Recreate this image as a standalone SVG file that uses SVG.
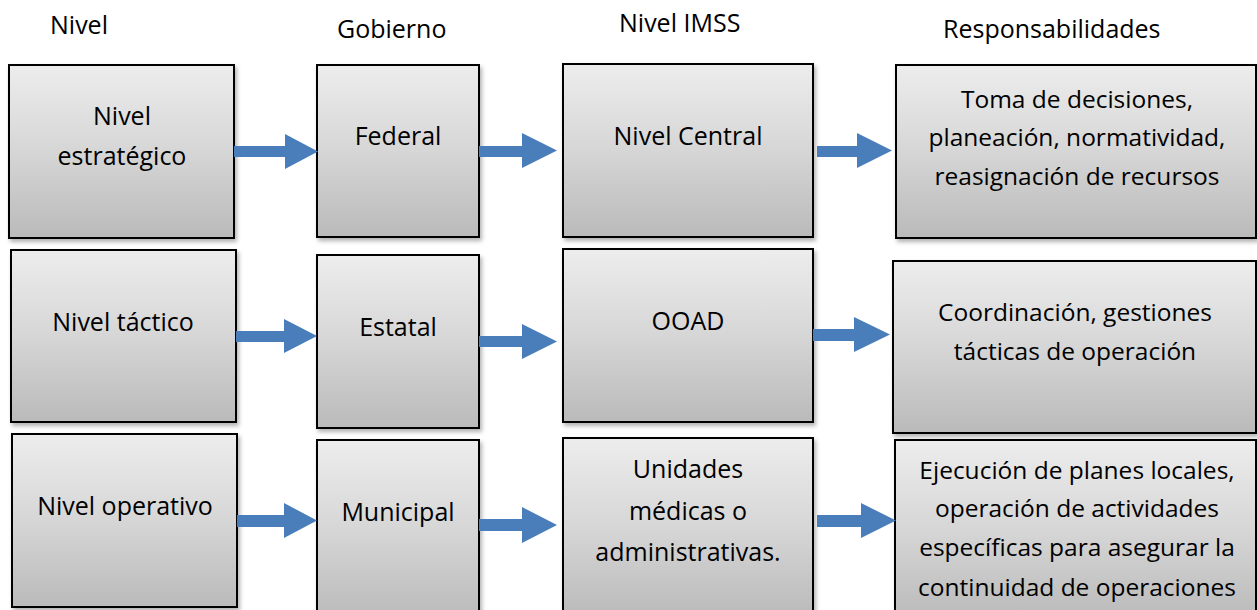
<svg xmlns="http://www.w3.org/2000/svg" width="1257" height="610" viewBox="0 0 1257 610">
<defs>
<linearGradient id="g" x1="0" y1="0" x2="0" y2="1">
<stop offset="0" stop-color="#ededed"/>
<stop offset="0.5" stop-color="#d6d6d6"/>
<stop offset="1" stop-color="#bababa"/>
</linearGradient>
<filter id="sh" x="-5%" y="-5%" width="112%" height="115%">
<feDropShadow dx="2" dy="3" stdDeviation="2" flood-color="#000" flood-opacity="0.3"/>
</filter>
</defs>
<style>
.box{fill:url(#g);stroke:#000;stroke-width:2;filter:url(#sh)}
.t{font-family:"Open Sans","Liberation Sans",sans-serif;font-size:25px;fill:#000;text-anchor:middle}
.d{font-size:24.5px}
.h{font-family:"Open Sans","Liberation Sans",sans-serif;font-size:25px;fill:#000}
.arr{fill:#4a7ebb}
</style>
<rect width="1257" height="610" fill="#fff"/>
<g id="headers">
<text class="h" x="50" y="34">Nivel</text>
<text class="h" x="337" y="38">Gobierno</text>
<text class="h" x="619" y="32">Nivel IMSS</text>
<text class="h" x="943" y="38">Responsabilidades</text>
</g>
<g id="n-estrategico"><rect class="box" x="9" y="65" width="225" height="173"/><text class="t" x="122" y="125">Nivel</text><text class="t" x="122" y="165">estratégico</text></g>
<g id="n-federal"><rect class="box" x="317" y="65" width="162" height="172"/><text class="t" x="398" y="145">Federal</text></g>
<g id="n-central"><rect class="box" x="563" y="64" width="250" height="173"/><text class="t" x="688" y="145">Nivel Central</text></g>
<g id="n-resp1"><rect class="box" x="896" y="65" width="360" height="173"/><text class="t d" x="1077" y="108">Toma de decisiones,</text><text class="t d" x="1077" y="146">planeación, normatividad,</text><text class="t d" x="1077" y="185">reasignación de recursos</text></g>
<g id="n-tactico"><rect class="box" x="11" y="250" width="225" height="172"/><text class="t" x="123" y="331">Nivel táctico</text></g>
<g id="n-estatal"><rect class="box" x="317" y="255" width="162" height="173"/><text class="t" x="398" y="336">Estatal</text></g>
<g id="n-ooad"><rect class="box" x="563" y="249" width="250" height="173"/><text class="t" x="688" y="330">OOAD</text></g>
<g id="n-resp2"><rect class="box" x="893" y="261" width="363" height="172"/><text class="t d" x="1075" y="321">Coordinación, gestiones</text><text class="t d" x="1075" y="360">tácticas de operación</text></g>
<g id="n-operativo"><rect class="box" x="12" y="434" width="225" height="173"/><text class="t" x="125" y="515">Nivel operativo</text></g>
<g id="n-municipal"><rect class="box" x="317" y="440" width="162" height="180"/><text class="t" x="398" y="521">Municipal</text></g>
<g id="n-unidades"><rect class="box" x="563" y="438" width="250" height="180"/><text class="t" x="688" y="478">Unidades</text><text class="t" x="688" y="520">médicas o</text><text class="t" x="688" y="561">administrativas.</text></g>
<g id="n-resp3"><rect class="box" x="895" y="440" width="361" height="180"/><text class="t d" x="1077" y="479">Ejecución de planes locales,</text><text class="t d" x="1077" y="517">operación de actividades</text><text class="t d" x="1077" y="556">específicas para asegurar la</text><text class="t d" x="1077" y="596">continuidad de operaciones</text></g>
<g id="connectors">
<polygon class="arr" points="234,146 285,146 285,134 318,151.5 285,169 285,157 234,157"/>
<polygon class="arr" points="479,146 522,146 522,133 557,150.5 522,168 522,157 479,157"/>
<polygon class="arr" points="817,146 857,146 857,133 892,150.5 857,168 857,157 817,157"/>
<polygon class="arr" points="236,331 284,331 284,319 317,336 284,353 284,342 236,342"/>
<polygon class="arr" points="479,336 522,336 522,324 557,341.5 522,359 522,347 479,347"/>
<polygon class="arr" points="813,329 854,329 854,317 890,334.5 854,352 854,341 813,341"/>
<polygon class="arr" points="237,515 284,515 284,503 317,520.5 284,538 284,527 237,527"/>
<polygon class="arr" points="479,519 522,519 522,507 557,525 522,543 522,531 479,531"/>
<polygon class="arr" points="817,515 861,515 861,503 896,520.5 861,538 861,527 817,527"/>
</g>
</svg>
